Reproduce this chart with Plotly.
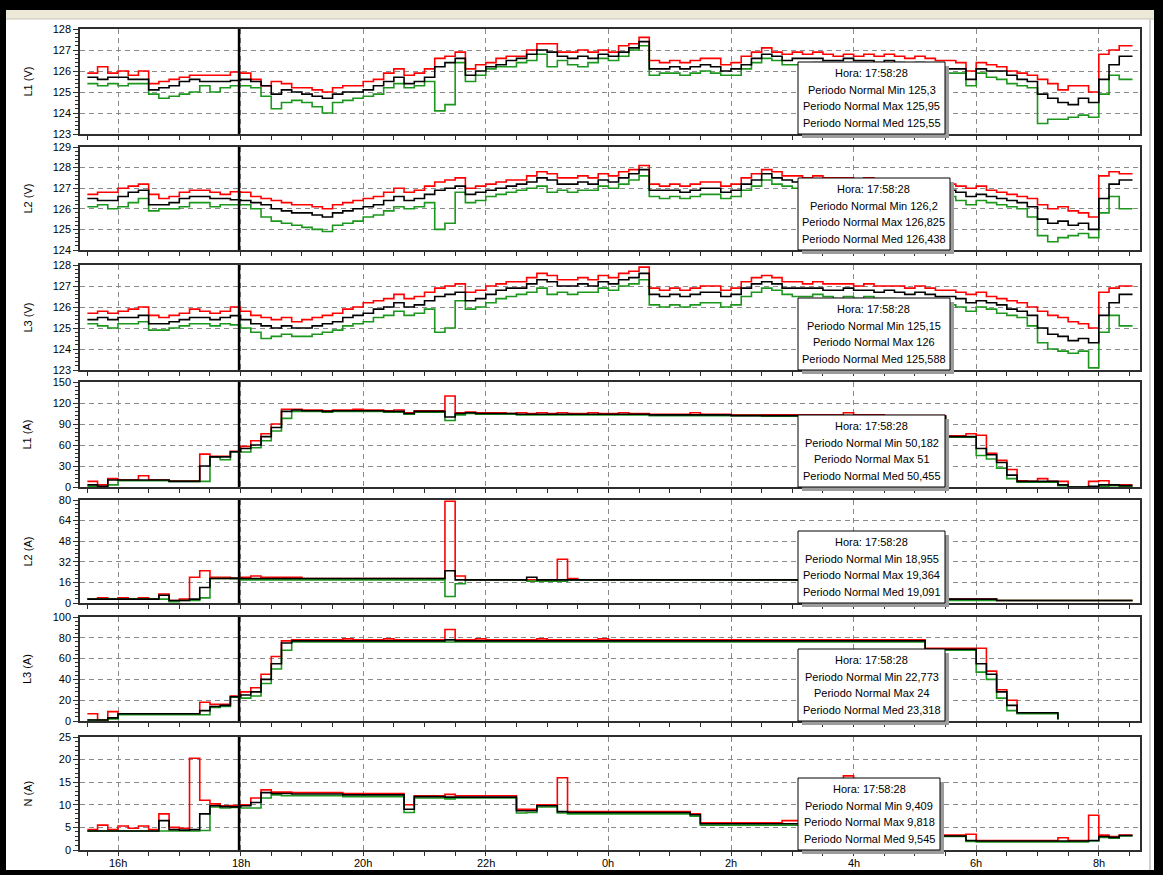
import plotly.graph_objects as go

# ---------------------------------------------------------------------------
# Recording: one record every 10 minutes from 15:30 until about 8:33 next day.
# Hours are counted from the first midnight (24 = 0h of the next day).
# ---------------------------------------------------------------------------
SAMPLE_START = 15.5
SAMPLE_MINUTES = 10
SAMPLE_END = 32.55

CURSOR_TIME = "17:58:28"

X_TICK_HOURS = [16, 18, 20, 22, 24, 26, 28, 30, 32]
X_TICK_LABELS = ["16h", "18h", "20h", "22h", "0h", "2h", "4h", "6h", "8h"]

# ---- L1 voltage (V) --------------------------------------------------------
L1V_MAX = [
    125.9, 126.2, 125.9, 126.0, 125.8, 126.0, 125.4, 125.5, 125.6, 125.7, 125.8, 125.8,
    125.8, 125.8, 125.95, 125.9, 125.6, 125.3, 125.5, 125.4, 125.2, 125.2, 125.1, 125.0,
    125.2, 125.3, 125.3, 125.5, 125.6, 125.9, 126.1, 125.8, 125.9, 126.1, 126.6, 126.7,
    126.9, 126.1, 126.3, 126.4, 126.6, 126.7, 126.7, 127.0, 127.3, 127.3, 126.9, 126.9,
    127.0, 126.9, 127.0, 126.9, 127.2, 127.3, 127.6, 126.5, 126.4, 126.5, 126.4, 126.5,
    126.6, 126.6, 126.3, 126.4, 126.7, 126.9, 127.1, 126.9, 126.8, 126.9, 126.8, 126.9,
    126.8, 126.7, 126.8, 126.7, 126.8, 126.7, 126.8, 126.7, 126.6, 126.7, 126.6, 126.5,
    126.5, 126.4, 126.0, 126.4, 126.3, 126.2, 126.0, 125.9, 125.8, 125.6, 125.4, 125.1,
    125.3, 125.3, 125.0, 126.8, 127.0, 127.2,
]
L1V_MED = [
    125.7, 125.6, 125.7, 125.7, 125.6, 125.6, 125.1, 125.2, 125.3, 125.5, 125.6, 125.5,
    125.5, 125.5, 125.55, 125.6, 125.5, 125.3, 124.9, 125.1, 125.0, 124.9, 124.8, 124.7,
    124.9, 125.0, 125.0, 125.1, 125.3, 125.5, 125.7, 125.4, 125.5, 125.7, 126.2, 126.4,
    126.6, 125.8, 126.0, 126.2, 126.3, 126.5, 126.6, 126.8, 127.0, 126.9, 126.7, 126.6,
    126.7, 126.6, 126.8, 126.7, 126.9, 127.1, 127.4, 126.1, 126.1, 126.2, 126.1, 126.2,
    126.3, 126.2, 126.0, 126.1, 126.3, 126.6, 126.8, 126.7, 126.5, 126.6, 126.6, 126.6,
    126.5, 126.5, 126.6, 126.5, 126.5, 126.4, 126.5, 126.4, 126.3, 126.4, 126.3, 126.2,
    126.1, 126.1, 125.6, 126.1, 126.0, 126.0, 125.8, 125.6, 125.5, 124.9, 124.7, 124.5,
    124.4, 124.7, 124.5, 125.6, 126.3, 126.7,
]
L1V_MIN = [
    125.4, 125.3, 125.4, 125.3, 125.4, 125.4, 124.9, 124.7, 124.8, 124.9, 125.0, 125.3,
    125.0, 125.2, 125.3, 125.3, 125.2, 124.8, 124.2, 124.5, 124.6, 124.5, 124.3, 124.0,
    124.5, 124.6, 124.7, 124.8, 124.9, 125.2, 125.4, 125.2, 125.3, 125.5, 124.1, 124.4,
    126.4, 125.5, 125.8, 126.1, 126.2, 126.2, 126.4, 126.5, 126.8, 126.2, 126.5, 126.3,
    126.2, 126.4, 126.6, 126.5, 126.7, 127.0, 127.2, 125.8, 125.9, 125.9, 125.8, 125.9,
    126.0, 125.9, 125.8, 125.8, 126.1, 126.4, 126.6, 126.5, 126.3, 126.3, 126.3, 126.4,
    126.2, 126.2, 126.3, 126.2, 126.2, 126.1, 126.2, 126.1, 126.0, 126.1, 126.0, 125.9,
    125.9, 125.9, 125.3, 125.9, 125.7, 125.6, 125.4, 125.3, 125.2, 123.5, 123.7, 123.7,
    123.8, 123.9, 123.8, 124.9, 125.8, 125.6,
]

# ---- L2 voltage (V) --------------------------------------------------------
L2V_MAX = [
    126.7, 126.8, 126.8, 127.0, 127.1, 127.2, 126.7, 126.5, 126.6, 126.8, 126.9, 126.9,
    126.8, 126.7, 126.825, 126.8, 126.6, 126.5, 126.4, 126.3, 126.2, 126.2, 126.1, 126.0,
    126.2, 126.3, 126.4, 126.5, 126.6, 126.8, 127.0, 126.8, 126.9, 127.1, 127.3, 127.4,
    127.5, 127.0, 127.1, 127.2, 127.3, 127.4, 127.4, 127.6, 127.8, 127.7, 127.5, 127.5,
    127.6, 127.5, 127.7, 127.6, 127.8, 127.9, 128.1, 127.2, 127.1, 127.2, 127.1, 127.2,
    127.3, 127.3, 127.1, 127.2, 127.5, 127.7, 127.9, 127.8, 127.6, 127.6, 127.5, 127.6,
    127.5, 127.5, 127.5, 127.4, 127.5, 127.4, 127.4, 127.4, 127.3, 127.4, 127.3, 127.3,
    127.2, 127.1, 127.0, 127.1, 126.9, 126.8, 126.7, 126.6, 126.5, 126.2, 126.0, 126.1,
    125.9, 125.8, 125.6, 127.6, 127.8, 127.7,
]
L2V_MED = [
    126.5, 126.4, 126.4, 126.6, 126.8, 126.9, 126.2, 126.2, 126.3, 126.5, 126.6, 126.6,
    126.5, 126.5, 126.438, 126.4, 126.3, 126.2, 126.0, 125.9, 125.8, 125.8, 125.7, 125.6,
    125.8, 125.9, 126.0, 126.1, 126.2, 126.4, 126.6, 126.4, 126.5, 126.7, 126.9, 127.0,
    127.1, 126.7, 126.8, 126.9, 127.0, 127.1, 127.2, 127.3, 127.5, 127.4, 127.2, 127.2,
    127.3, 127.2, 127.4, 127.3, 127.5, 127.7, 127.9, 126.9, 126.9, 126.9, 126.8, 126.9,
    127.0, 127.0, 126.8, 126.9, 127.2, 127.4, 127.7, 127.5, 127.4, 127.3, 127.3, 127.4,
    127.3, 127.2, 127.3, 127.2, 127.3, 127.2, 127.2, 127.2, 127.1, 127.2, 127.1, 127.0,
    126.9, 126.8, 126.6, 126.7, 126.6, 126.5, 126.4, 126.3, 126.1, 125.5, 125.3, 125.4,
    125.2, 125.3, 125.0, 126.5, 127.2, 127.4,
]
L2V_MIN = [
    126.1, 126.2, 126.0, 126.1, 126.3, 126.5, 125.9, 126.0, 126.0, 126.1, 126.3, 126.3,
    126.1, 126.2, 126.2, 126.2, 126.0, 125.6, 125.4, 125.3, 125.2, 125.1, 125.0, 124.9,
    125.2, 125.3, 125.4, 125.6, 125.7, 125.9, 126.1, 126.0, 126.1, 126.3, 125.0, 125.3,
    126.8, 126.3, 126.4, 126.6, 126.7, 126.8, 126.9, 127.0, 127.1, 126.8, 126.9, 126.8,
    126.9, 126.9, 127.1, 127.0, 127.2, 127.4, 127.6, 126.6, 126.5, 126.6, 126.5, 126.6,
    126.7, 126.7, 126.5, 126.6, 126.9, 127.1, 127.4, 127.2, 127.1, 127.0, 127.0, 127.1,
    127.0, 126.9, 127.0, 126.9, 127.0, 126.9, 126.9, 126.8, 126.8, 126.8, 126.7, 126.7,
    126.6, 126.4, 126.2, 126.4, 126.3, 126.2, 126.1, 126.0, 125.6, 124.7, 124.4, 124.6,
    124.7, 124.8, 124.6, 125.8, 126.6, 126.0,
]

# ---- L3 voltage (V) --------------------------------------------------------
L3V_MAX = [
    125.7, 125.8, 125.7, 125.8, 125.9, 126.0, 125.6, 125.5, 125.6, 125.7, 125.9, 125.8,
    125.7, 125.8, 126.0, 125.8, 125.6, 125.5, 125.4, 125.5, 125.3, 125.4, 125.5, 125.6,
    125.7, 125.9, 126.0, 126.2, 126.3, 126.4, 126.6, 126.4, 126.5, 126.7, 126.9, 127.0,
    127.1, 126.7, 126.8, 127.0, 127.1, 127.2, 127.2, 127.4, 127.6, 127.5, 127.3, 127.3,
    127.4, 127.3, 127.5, 127.4, 127.6, 127.7, 127.9, 126.9, 126.8, 126.9, 126.8, 126.9,
    127.0, 127.0, 126.8, 126.9, 127.2, 127.4, 127.5, 127.4, 127.2, 127.2, 127.1, 127.2,
    127.1, 127.1, 127.1, 127.0, 127.1, 127.0, 127.0, 127.0, 126.9, 127.0, 126.9, 126.8,
    126.8, 126.7, 126.6, 126.7, 126.5, 126.4, 126.3, 126.2, 126.0, 125.8, 125.6, 125.5,
    125.3, 125.2, 125.0, 126.7, 126.9, 127.0,
]
L3V_MED = [
    125.4, 125.5, 125.4, 125.5, 125.5, 125.6, 125.2, 125.2, 125.3, 125.4, 125.5, 125.5,
    125.4, 125.5, 125.588, 125.4, 125.2, 125.1, 125.0, 125.1, 125.0, 125.0, 125.1, 125.2,
    125.3, 125.5, 125.6, 125.7, 125.9, 126.0, 126.2, 126.0, 126.1, 126.3, 126.5, 126.6,
    126.7, 126.3, 126.4, 126.6, 126.8, 126.9, 126.9, 127.1, 127.3, 127.2, 127.0, 127.0,
    127.1, 127.0, 127.2, 127.1, 127.3, 127.4, 127.6, 126.6, 126.5, 126.6, 126.5, 126.6,
    126.7, 126.7, 126.5, 126.6, 126.9, 127.1, 127.2, 127.1, 126.9, 126.9, 126.9, 126.9,
    126.8, 126.8, 126.9, 126.8, 126.8, 126.7, 126.8, 126.7, 126.6, 126.7, 126.6, 126.5,
    126.5, 126.4, 126.2, 126.3, 126.2, 126.1, 125.9, 125.8, 125.6, 125.0, 124.7, 124.6,
    124.4, 124.5, 124.3, 125.6, 126.2, 126.6,
]
L3V_MIN = [
    125.2, 125.1, 125.0, 125.2, 125.2, 125.3, 124.9, 124.9, 125.0, 125.1, 125.2, 125.2,
    125.1, 125.2, 125.15, 125.0, 124.8, 124.5, 124.6, 124.7, 124.6, 124.6, 124.7, 124.8,
    124.9, 125.1, 125.2, 125.3, 125.5, 125.6, 125.8, 125.6, 125.7, 125.9, 124.8, 125.0,
    126.3, 125.9, 126.0, 126.2, 126.4, 126.5, 126.6, 126.7, 126.9, 126.6, 126.7, 126.6,
    126.7, 126.7, 126.9, 126.8, 127.0, 127.1, 127.3, 126.1, 126.0, 126.1, 126.0, 126.1,
    126.2, 126.2, 126.0, 126.1, 126.5, 126.7, 126.9, 126.8, 126.6, 126.5, 126.5, 126.6,
    126.5, 126.4, 126.5, 126.4, 126.5, 126.4, 126.4, 126.3, 126.3, 126.3, 126.2, 126.2,
    126.1, 126.0, 125.8, 126.0, 125.9, 125.7, 125.6, 125.5, 125.1, 124.3, 124.0, 123.9,
    123.8, 123.9, 123.1, 124.8, 125.6, 125.1,
]

# ---- L1 current (A) --------------------------------------------------------
L1A_MAX = [
    8, 3, 12, 10, 10, 16, 10, 10, 9, 9, 9, 47,
    44, 44, 51, 58, 66, 76, 90, 111, 111, 110, 110, 109,
    110, 110, 111, 110, 110, 109, 110, 106, 109, 109, 109, 130,
    106, 107, 106, 106, 106, 105, 106, 105, 106, 105, 106, 105,
    105, 106, 105, 105, 106, 105, 105, 104, 104, 104, 104, 106,
    104, 104, 104, 103, 103, 103, 103, 103, 103, 103, 103, 103,
    103, 103, 106, 103, 103, 103, 102, 102, 102, 102, 102, 102,
    73, 73, 76, 74, 48, 38, 25, 9, 8, 12, 8, 8,
    0, 0, 8, 9, 3, 3,
]
L1A_MED = [
    3, 1, 10, 10, 10, 10, 10, 10, 8, 8, 8, 30,
    43, 43, 50.455, 55, 60, 72, 85, 108, 110, 109, 109, 108,
    109, 109, 109, 109, 109, 108, 108, 105, 108, 108, 108, 100,
    105, 106, 105, 105, 105, 105, 104, 104, 104, 104, 104, 104,
    104, 104, 104, 104, 104, 104, 104, 103, 103, 103, 103, 103,
    103, 103, 103, 102, 102, 102, 102, 102, 102, 102, 102, 102,
    102, 102, 102, 102, 102, 102, 101, 101, 101, 101, 101, 101,
    72, 72, 72, 55, 46, 35, 17, 8, 8, 8, 8, 3,
    0, 0, 1, 3, 3, 2,
]
L1A_MIN = [
    1, 0, 3, 9, 9, 9, 9, 9, 8, 8, 8, 8,
    43, 39, 50.182, 50, 56, 66, 80, 98, 108, 108, 108, 107,
    108, 108, 108, 108, 108, 107, 107, 104, 107, 107, 107, 95,
    103, 105, 104, 104, 104, 104, 103, 103, 103, 103, 103, 103,
    103, 103, 103, 103, 103, 103, 103, 102, 102, 102, 102, 102,
    102, 102, 102, 102, 102, 102, 101, 101, 101, 101, 101, 101,
    101, 101, 101, 101, 101, 101, 100, 100, 100, 100, 100, 100,
    71, 71, 71, 45, 40, 27, 12, 7, 7, 7, 7, 2,
    0, 0, 0, 1, 2, 1,
]

# ---- L2 current (A) --------------------------------------------------------
L2A_MAX = [
    3, 4, 3, 4, 3, 4, 3, 7, 2, 3, 20, 25,
    20, 20, 19.364, 20, 21, 20, 20, 20, 20, 19, 19, 19,
    19, 19, 19, 19, 19, 19, 19, 19, 19, 19, 19, 79,
    21, 18, 18, 18, 18, 18, 18, 18, 17, 18, 34, 19,
    18, 18, 18, 18, 18, 18, 18, 18, 18, 18, 18, 18,
    18, 18, 18, 18, 18, 18, 18, 18, 18, 18, 18, 18,
    18, 18, 18, 18, 18, 18, 18, 18, 18, 18, 3, 3,
    3, 3, 3, 3, 3, 2, 2, 2, 2, 2, 2, 2,
    2, 2, 2, 2, 2, 2,
]
L2A_MED = [
    3, 3, 3, 3, 3, 3, 3, 6, 2, 2, 3, 12,
    19, 19, 19.091, 19, 19, 19, 19, 19, 19, 19, 19, 19,
    19, 19, 19, 19, 19, 19, 19, 19, 19, 19, 19, 25,
    18, 18, 18, 18, 18, 18, 18, 20, 18, 18, 18, 18,
    18, 18, 18, 18, 18, 18, 18, 18, 18, 18, 18, 18,
    18, 18, 18, 18, 18, 18, 18, 18, 18, 18, 18, 18,
    18, 18, 18, 18, 18, 18, 18, 18, 18, 18, 3, 3,
    3, 3, 3, 3, 3, 2, 2, 2, 2, 2, 2, 2,
    2, 2, 2, 2, 2, 2,
]
L2A_MIN = [
    3, 3, 3, 3, 3, 3, 3, 3, 1, 2, 2, 4,
    19, 19, 18.955, 18, 18, 18, 18, 18, 18, 18, 18, 18,
    18, 18, 18, 18, 18, 18, 18, 18, 18, 18, 18, 5,
    15, 18, 18, 18, 18, 18, 18, 17, 17, 17, 17, 18,
    18, 18, 18, 18, 18, 18, 18, 18, 18, 18, 18, 18,
    18, 18, 18, 18, 18, 18, 18, 18, 18, 18, 18, 18,
    18, 18, 18, 18, 18, 18, 18, 18, 18, 18, 2, 2,
    2, 2, 2, 2, 2, 2, 2, 2, 2, 2, 2, 2,
    2, 2, 2, 2, 2, 2,
]

# ---- L3 current (A) --------------------------------------------------------
L3A_MAX = [
    7, 1, 9, 7, 7, 7, 7, 7, 7, 7, 7, 18,
    16, 16, 24, 28, 32, 45, 62, 77, 78, 78, 78, 78,
    78, 79, 78, 78, 78, 79, 78, 78, 78, 78, 78, 88,
    78, 78, 79, 78, 78, 78, 78, 78, 79, 78, 78, 78,
    78, 78, 79, 78, 78, 78, 78, 78, 78, 78, 78, 78,
    78, 78, 78, 78, 78, 78, 78, 78, 78, 78, 78, 78,
    78, 78, 78, 78, 78, 78, 78, 78, 78, 78, 70, 70,
    70, 70, 70, 70, 48, 30, 20, 8, 8, 8, 8, 8,
    None, None, None, None, None, None,
]
L3A_MED = [
    1, 1, 3, 7, 7, 7, 7, 7, 7, 7, 7, 10,
    14, 15, 23.318, 25, 28, 40, 55, 75, 77, 77, 77, 77,
    77, 77, 77, 77, 77, 77, 77, 77, 77, 77, 77, 78,
    77, 77, 77, 77, 77, 77, 77, 77, 77, 77, 77, 77,
    77, 77, 77, 77, 77, 77, 77, 77, 77, 77, 77, 77,
    77, 77, 77, 77, 77, 77, 77, 77, 77, 77, 77, 77,
    77, 77, 77, 77, 77, 77, 77, 77, 77, 77, 69, 69,
    69, 69, 69, 55, 45, 28, 15, 8, 8, 8, 8, 2,
    None, None, None, None, None, None,
]
L3A_MIN = [
    1, 1, 2, 6, 6, 6, 6, 6, 6, 6, 6, 6,
    13, 14, 22.773, 22, 24, 36, 50, 68, 76, 76, 76, 76,
    76, 76, 76, 76, 76, 76, 76, 76, 76, 76, 76, 76,
    76, 76, 76, 76, 76, 76, 76, 76, 76, 76, 76, 76,
    76, 76, 76, 76, 76, 76, 76, 76, 76, 76, 76, 76,
    76, 76, 76, 76, 76, 76, 76, 76, 76, 76, 76, 76,
    76, 76, 76, 76, 76, 76, 76, 76, 76, 76, 68, 68,
    68, 68, 68, 47, 40, 22, 10, 7, 7, 7, 7, 1,
    None, None, None, None, None, None,
]

# ---- Neutral current (A) ---------------------------------------------------
NA_MAX = [
    4.5, 5.5, 4.5, 5.3, 4.8, 5.3, 4.5, 8.0, 5.0, 4.8, 20.3, 11.0,
    10.2, 9.8, 9.818, 10.0, 11.5, 13.3, 12.8, 12.8, 12.7, 12.7, 12.7, 12.7,
    12.7, 12.5, 12.5, 12.5, 12.5, 12.5, 12.5, 10.0, 12.0, 12.0, 12.0, 12.3,
    12.0, 12.0, 12.0, 12.0, 12.0, 12.0, 9.0, 9.0, 10.0, 10.0, 16.0, 8.5,
    8.5, 8.5, 8.5, 8.5, 8.5, 8.5, 8.5, 8.5, 8.5, 8.5, 8.5, 8.0,
    6.0, 6.0, 6.0, 6.0, 6.0, 6.0, 6.0, 6.0, 6.5, 6.5, 6.0, 6.0,
    6.0, 6.0, 16.4, 6.0, 6.0, 6.0, 6.0, 6.0, 6.0, 6.0, 3.3, 3.3,
    3.3, 3.3, 3.5, 2.1, 2.1, 2.1, 2.1, 2.1, 2.1, 2.1, 2.1, 2.7,
    2.1, 2.1, 7.7, 3.3, 3.0, 3.3,
]
NA_MED = [
    4.2, 4.2, 4.2, 4.2, 4.2, 4.2, 4.2, 6.5, 4.5, 4.4, 4.5, 8.0,
    9.8, 9.6, 9.545, 9.8, 10.5, 12.7, 12.5, 12.5, 12.4, 12.4, 12.4, 12.4,
    12.4, 12.2, 12.2, 12.2, 12.2, 12.2, 12.2, 9.0, 11.8, 11.8, 11.8, 11.7,
    11.7, 11.7, 11.7, 11.7, 11.7, 11.7, 8.7, 8.7, 9.8, 9.8, 8.5, 8.3,
    8.3, 8.3, 8.3, 8.3, 8.3, 8.3, 8.3, 8.3, 8.3, 8.3, 8.3, 7.8,
    5.8, 5.8, 5.8, 5.8, 5.8, 5.8, 5.8, 5.8, 5.8, 5.8, 5.8, 5.8,
    5.8, 5.8, 5.8, 5.8, 5.8, 5.8, 5.8, 5.8, 5.8, 5.8, 3.1, 3.1,
    3.1, 3.1, 2.1, 2.0, 2.0, 2.0, 2.0, 2.0, 2.0, 2.0, 2.0, 2.0,
    2.0, 2.0, 2.1, 3.0, 2.8, 3.2,
]
NA_MIN = [
    4.2, 4.2, 4.2, 4.2, 4.2, 4.2, 4.2, 4.2, 4.2, 4.2, 4.2, 4.3,
    9.5, 9.3, 9.409, 9.3, 9.3, 11.5, 12.2, 12.0, 12.0, 12.0, 12.0, 12.0,
    12.0, 11.8, 11.8, 11.8, 11.8, 11.8, 11.8, 8.3, 11.5, 11.5, 11.5, 11.3,
    11.5, 11.5, 11.5, 11.5, 11.5, 11.5, 8.2, 8.3, 9.5, 9.5, 8.2, 8.0,
    8.0, 8.0, 8.0, 8.0, 8.0, 8.0, 8.0, 8.0, 8.0, 8.0, 8.0, 7.5,
    5.5, 5.5, 5.5, 5.5, 5.5, 5.5, 5.5, 5.5, 5.5, 5.5, 5.5, 5.5,
    5.5, 5.5, 5.5, 5.5, 5.5, 5.5, 5.5, 5.5, 5.5, 5.5, 3.0, 3.0,
    3.0, 3.0, 1.9, 1.8, 1.8, 1.8, 1.8, 1.8, 1.8, 1.8, 1.8, 1.8,
    1.8, 1.8, 2.0, 2.8, 2.6, 3.1,
]

PANELS = [
    dict(label="L1 (V)", rng=[123, 128], dtick=1, hi=L1V_MAX, lo=L1V_MIN, mid=L1V_MED),
    dict(label="L2 (V)", rng=[124, 129], dtick=1, hi=L2V_MAX, lo=L2V_MIN, mid=L2V_MED),
    dict(label="L3 (V)", rng=[123, 128], dtick=1, hi=L3V_MAX, lo=L3V_MIN, mid=L3V_MED),
    dict(label="L1 (A)", rng=[0, 150], dtick=30, hi=L1A_MAX, lo=L1A_MIN, mid=L1A_MED),
    dict(label="L2 (A)", rng=[0, 80], dtick=16, hi=L2A_MAX, lo=L2A_MIN, mid=L2A_MED),
    dict(label="L3 (A)", rng=[0, 100], dtick=20, hi=L3A_MAX, lo=L3A_MIN, mid=L3A_MED),
    dict(label="N (A)", rng=[0, 25], dtick=5, hi=NA_MAX, lo=NA_MIN, mid=NA_MED),
]

# ---------------------------------------------------------------------------
# Page geometry (pixels)
# ---------------------------------------------------------------------------
W, H = 1163, 875
PL, PR, PT, PB = 80, 1140, 29, 850
PANEL_PX = [(29, 134), (147, 250), (265, 370), (382, 487), (500, 603), (617, 721), (737, 850)]
X_RANGE = [15.38, 32.672]
X_LABEL_Y = 863

RED = "#ff0000"
GREEN = "#1c961c"
BLACK = "#000000"
AXIS = "#2e2e2e"
GRID = "#8a8a8a"
FONT = "Liberation Sans, Arial, sans-serif"


def fx(px):
    return (px - PL) / (PR - PL)


def fy(py):
    return (PB - py) / (PB - PT)


def step_xy(values):
    xs = [SAMPLE_START + k * SAMPLE_MINUTES / 60 for k in range(len(values))] + [SAMPLE_END]
    ys = list(values) + [values[-1]]
    return xs, ys


def fmt(v):
    return f"{v:g}".replace(".", ",")


hh, mm, ss = (int(p) for p in CURSOR_TIME.split(":"))
cursor_h = hh + mm / 60 + ss / 3600
cursor_idx = int((cursor_h - SAMPLE_START) * 60 // SAMPLE_MINUTES)

fig = go.Figure()
layout = {}
shapes = []
annotations = []

# window frame: black border, beige strip, white client area
shapes.append(dict(type="rect", xref="paper", yref="paper", x0=fx(6), x1=fx(1154), y0=fy(10), y1=fy(870),
                   fillcolor="white", line=dict(width=0), layer="below"))
shapes.append(dict(type="rect", xref="paper", yref="paper", x0=fx(6), x1=fx(1154), y0=fy(10), y1=fy(19),
                   fillcolor="#ece9d8", line=dict(width=0), layer="below"))
shapes.append(dict(type="line", xref="paper", yref="paper", x0=fx(6), x1=fx(1154), y0=fy(19), y1=fy(19),
                   line=dict(color="#c9c5b5", width=1), layer="below"))
shapes.append(dict(type="line", xref="paper", yref="paper", x0=fx(1150), x1=fx(1150), y0=fy(19), y1=fy(870),
                   line=dict(color="#d0d0d0", width=2), layer="below"))

for i, p in enumerate(PANELS):
    n = i + 1
    sfx = "" if n == 1 else str(n)
    xref, yref = "x" + sfx, "y" + sfx
    top, bot = PANEL_PX[i]

    for vals, color in ((p["hi"], RED), (p["lo"], GREEN), (p["mid"], BLACK)):
        xs, ys = step_xy(vals)
        fig.add_trace(go.Scatter(x=xs, y=ys, mode="lines", xaxis=xref, yaxis=yref,
                                 line=dict(color=color, width=1.6, shape="hv"),
                                 hoverinfo="skip", showlegend=False))

    layout["xaxis" + sfx] = dict(
        domain=[0, 1], anchor=yref, range=X_RANGE, automargin=False,
        tickmode="array", tickvals=X_TICK_HOURS, ticktext=X_TICK_LABELS,
        showticklabels=False,
        ticks="outside", ticklen=4, tickwidth=1, tickcolor=AXIS,
        minor=dict(dtick=0.5, tick0=0, ticks="outside", ticklen=4, tickwidth=1,
                   tickcolor=AXIS, showgrid=False),
        showgrid=True, gridcolor=GRID, gridwidth=1, griddash="5px,4px",
        showline=True, mirror=True, linecolor=AXIS, linewidth=1.5,
        zeroline=False, fixedrange=True,
    )
    d = p["dtick"]
    layout["yaxis" + sfx] = dict(
        domain=[fy(bot), fy(top)], anchor=xref, range=p["rng"], automargin=False,
        tickmode="linear", tick0=p["rng"][0], dtick=d,
        ticks="outside", ticklen=5, tickwidth=1, tickcolor=AXIS,
        minor=dict(dtick=d / 5, tick0=p["rng"][0], ticks="outside", ticklen=3, tickwidth=1,
                   tickcolor=AXIS, showgrid=False),
        showgrid=True, gridcolor=GRID, gridwidth=1, griddash="5px,4px",
        showline=True, mirror=True, linecolor=AXIS, linewidth=1.5,
        zeroline=False, fixedrange=True,
        tickfont=dict(family=FONT, size=11, color="black"),
    )

    # axis caption
    annotations.append(dict(text=p["label"], xref="paper", yref="paper", x=fx(27), y=fy((top + bot) / 2),
                            xanchor="center", yanchor="middle", textangle=-90, showarrow=False,
                            font=dict(family=FONT, size=11, color="black")))

    # cursor line
    shapes.append(dict(type="line", xref=xref, yref=yref + " domain", x0=cursor_h, x1=cursor_h, y0=0, y1=1,
                       line=dict(color="black", width=2.5), layer="above"))

    # readout box at the cursor
    lines = [
        f"Hora: {CURSOR_TIME}",
        f"Periodo Normal Min {fmt(p['lo'][cursor_idx])}",
        f"Periodo Normal Max {fmt(p['hi'][cursor_idx])}",
        f"Periodo Normal Med {fmt(p['mid'][cursor_idx])}",
    ]
    bx0 = 798
    bx1 = bx0 + 22 + 5 * max(len(s) for s in lines)
    by1 = bot
    by0 = bot - 72
    shapes.append(dict(type="rect", xref="paper", yref="paper", x0=fx(bx0 + 4), x1=fx(bx1 + 4),
                       y0=fy(by1 + 4), y1=fy(by0 + 4), fillcolor="#9c9c9c", line=dict(width=0), layer="above"))
    shapes.append(dict(type="rect", xref="paper", yref="paper", x0=fx(bx0), x1=fx(bx1),
                       y0=fy(by1), y1=fy(by0), fillcolor="white", line=dict(color="black", width=1),
                       layer="above"))
    for j, s in enumerate(lines):
        annotations.append(dict(text=s, xref="paper", yref="paper", x=fx((bx0 + bx1) / 2),
                                y=fy(by0 + 11 + j * 16.7), xanchor="center", yanchor="middle",
                                showarrow=False, font=dict(family=FONT, size=11, color="black")))

# time labels under the bottom panel
bottom_x = "x" + str(len(PANELS))
for hour, text in zip(X_TICK_HOURS, X_TICK_LABELS):
    annotations.append(dict(text=text, xref=bottom_x, yref="paper", x=hour, y=fy(X_LABEL_Y),
                            xanchor="center", yanchor="middle", showarrow=False,
                            font=dict(family=FONT, size=11, color="black")))

fig.update_layout(
    width=W, height=H,
    margin=dict(l=PL, r=W - PR, t=PT, b=H - PB, pad=0, autoexpand=False),
    paper_bgcolor="black", plot_bgcolor="white",
    font=dict(family=FONT, size=11, color="black"),
    showlegend=False,
    shapes=shapes, annotations=annotations,
    **layout,
)

fig.write_html("out.html", config={"displayModeBar": False})
